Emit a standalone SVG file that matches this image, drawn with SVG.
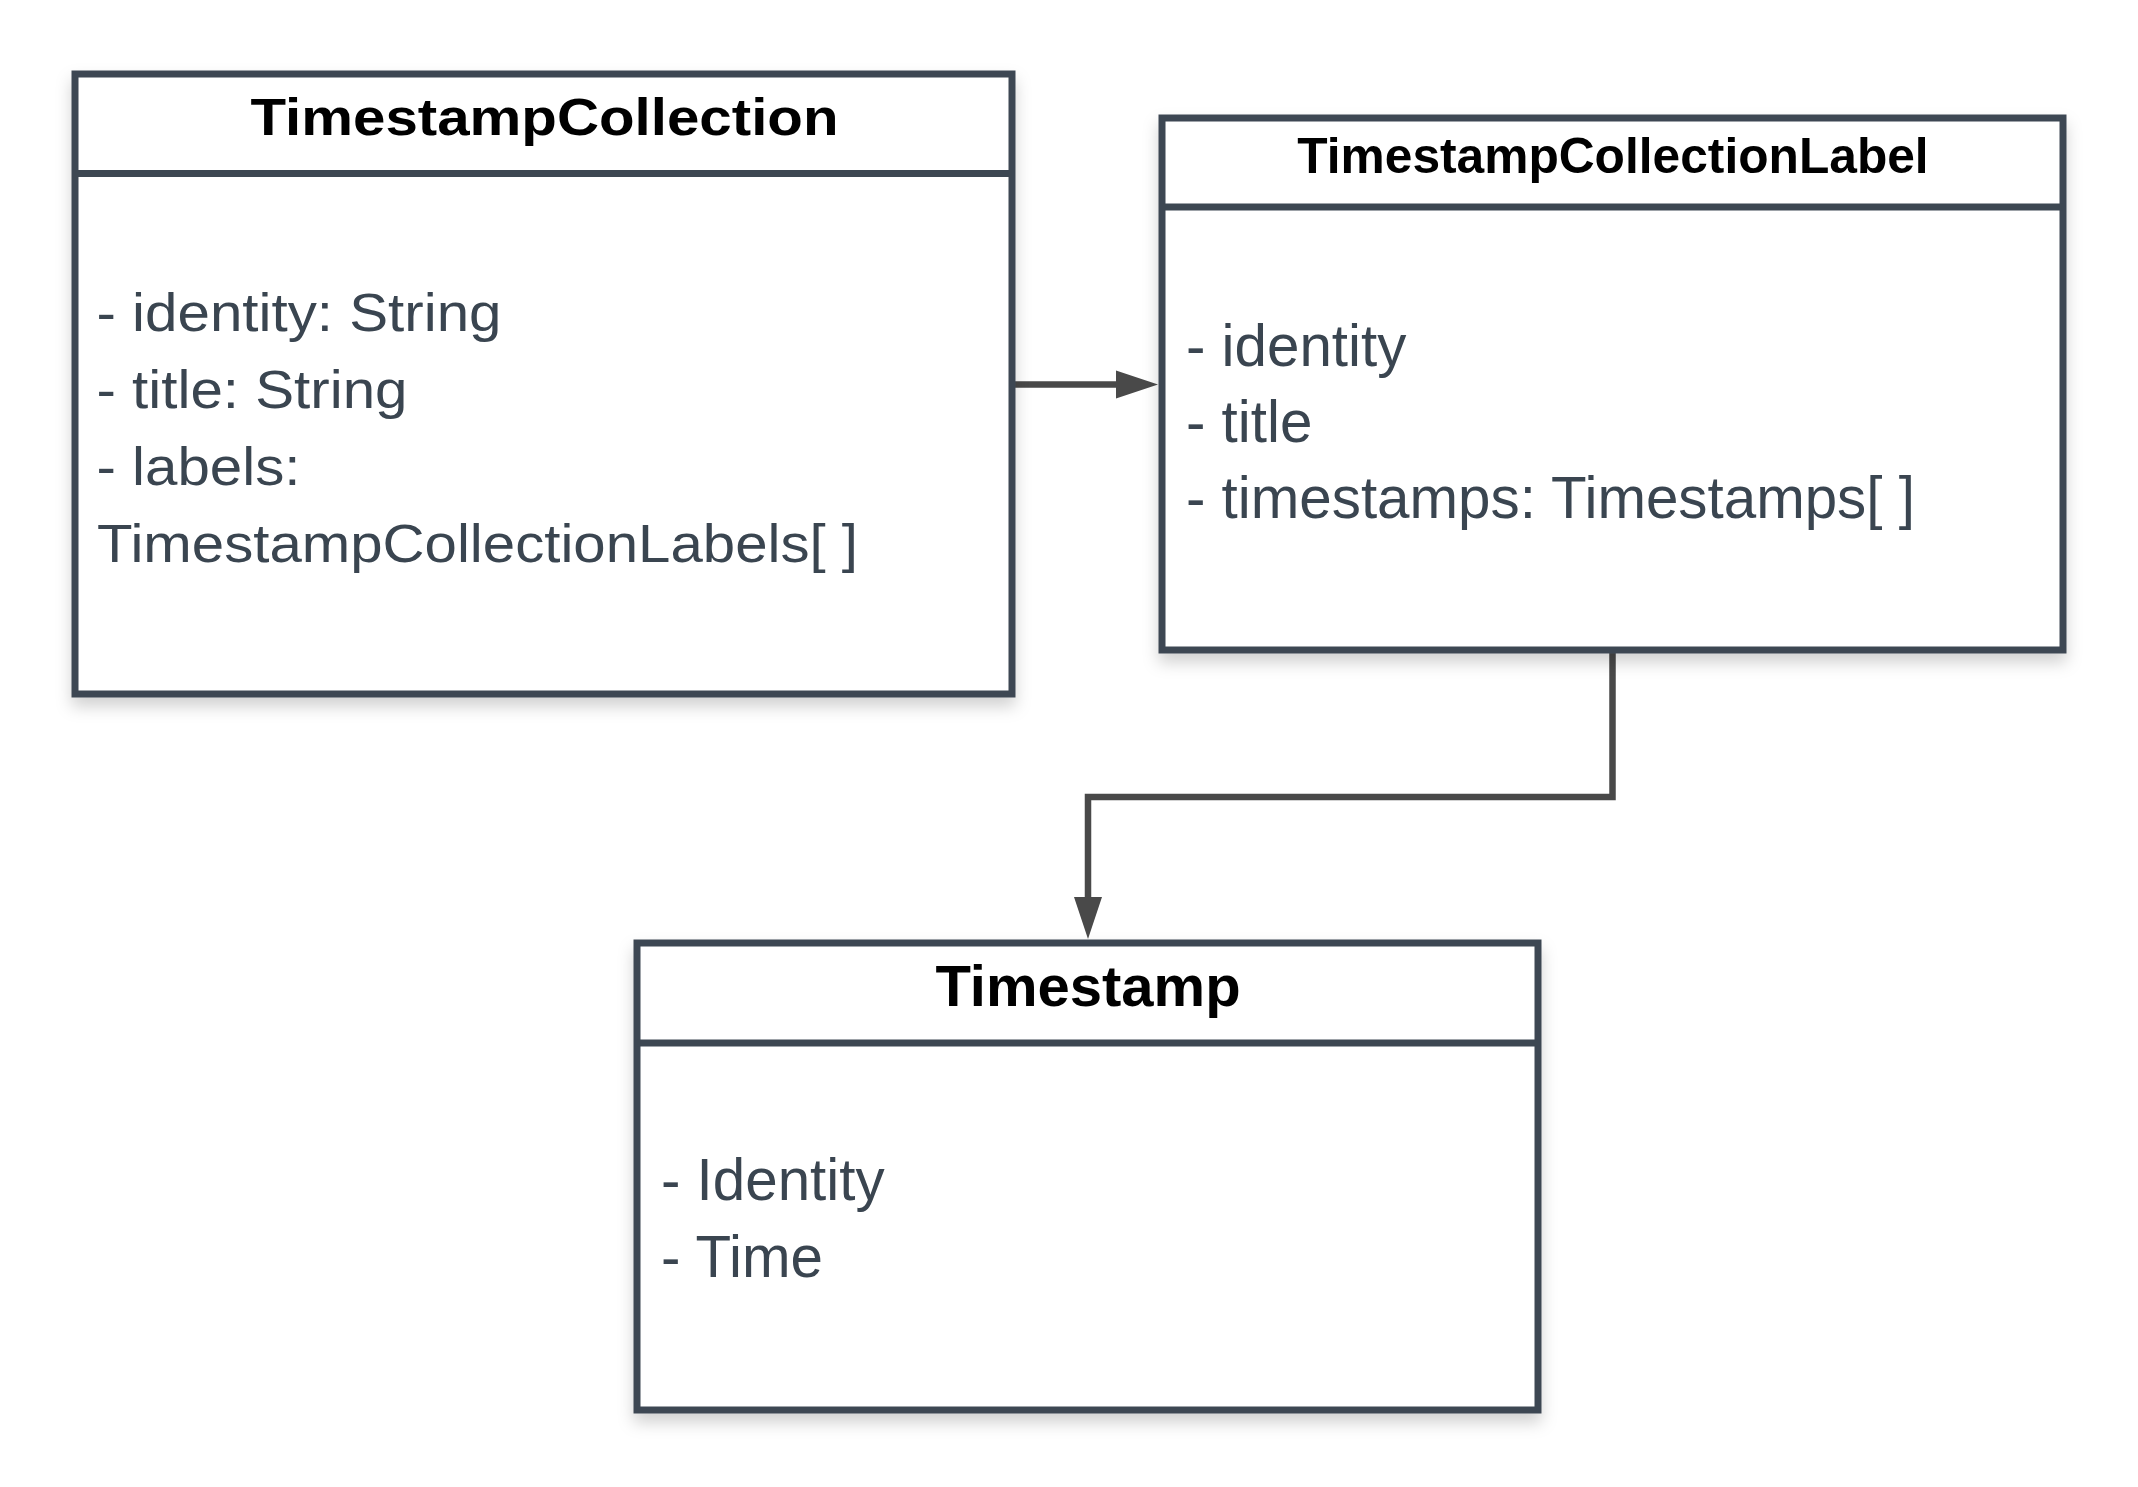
<svg xmlns="http://www.w3.org/2000/svg" width="2138" height="1487" viewBox="0 0 2138 1487">
  <style>
    .box { fill: #ffffff; stroke: #3d4752; stroke-width: 7; filter: url(#shadow); }
    .div { stroke: #3d4752; stroke-width: 7; fill: none; }
    .title { font-family: "Liberation Sans", Arial, sans-serif; font-weight: bold; fill: #000000; text-anchor: middle; }
    .body { font-family: "Liberation Sans", Arial, sans-serif; fill: #3a4550; }
    .conn { stroke: #494949; stroke-width: 6.5; fill: none; stroke-linejoin: miter; }
  </style>
  <defs>
    <filter id="shadow" x="-10%" y="-10%" width="120%" height="130%">
      <feDropShadow dx="0" dy="9" stdDeviation="8" flood-color="#000000" flood-opacity="0.18"/>
    </filter>
    <marker id="arrow" markerUnits="userSpaceOnUse" markerWidth="44" markerHeight="30" refX="2" refY="14" orient="auto" viewBox="0 0 44 28">
      <path d="M0,0 L42,14 L0,28 Z" fill="#494949"/>
    </marker>
  </defs>
  <rect width="2138" height="1487" fill="#ffffff"/>

  <g id="connectors">
    <path class="conn" d="M1012,384.5 H1118" marker-end="url(#arrow)"/>
    <path class="conn" d="M1612.5,650 V797 H1088 V899" marker-end="url(#arrow)"/>
  </g>

  <g id="TimestampCollection">
    <rect class="box" x="75" y="74" width="937" height="620"/>
    <line class="div" x1="75" y1="173.5" x2="1012" y2="173.5"/>
    <text class="title" x="544.5" y="135" font-size="51.5" textLength="588" lengthAdjust="spacingAndGlyphs">TimestampCollection</text>
    <text class="body" x="96.5" y="331" font-size="53" textLength="405" lengthAdjust="spacingAndGlyphs">- identity: String</text>
    <text class="body" x="96.5" y="408" font-size="53" textLength="311" lengthAdjust="spacingAndGlyphs">- title: String</text>
    <text class="body" x="96.5" y="484.5" font-size="53" textLength="204" lengthAdjust="spacingAndGlyphs">- labels:</text>
    <text class="body" x="97" y="561.5" font-size="53" textLength="761" lengthAdjust="spacingAndGlyphs">TimestampCollectionLabels[ ]</text>
  </g>

  <g id="TimestampCollectionLabel">
    <rect class="box" x="1162" y="118" width="901" height="532"/>
    <line class="div" x1="1162" y1="207" x2="2063" y2="207"/>
    <text class="title" x="1613" y="173.3" font-size="49.7">TimestampCollectionLabel</text>
    <text class="body" x="1186" y="365.7" font-size="58.3">- identity</text>
    <text class="body" x="1186" y="441.7" font-size="58.3">- title</text>
    <text class="body" x="1186" y="518.3" font-size="58.3">- timestamps: Timestamps[ ]</text>
  </g>

  <g id="Timestamp">
    <rect class="box" x="637" y="943" width="901" height="467"/>
    <line class="div" x1="637" y1="1043" x2="1538" y2="1043"/>
    <text class="title" x="1088" y="1006" font-size="58">Timestamp</text>
    <text class="body" x="661" y="1200" font-size="58.3">- Identity</text>
    <text class="body" x="661" y="1276.7" font-size="58.3">- Time</text>
  </g>
</svg>
